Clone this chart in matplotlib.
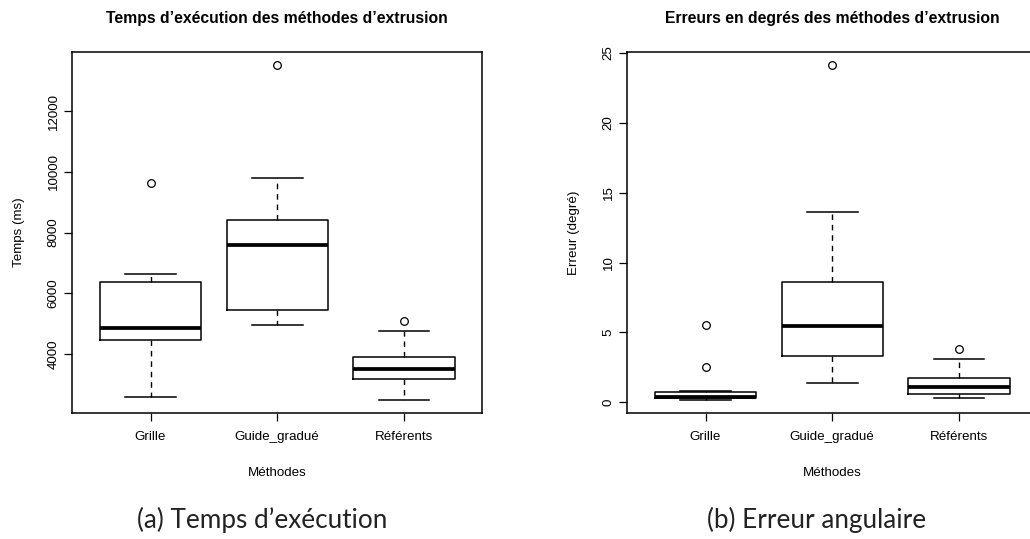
import matplotlib
matplotlib.use("Agg")
import matplotlib.pyplot as plt

# ---------------- data ----------------
methods = ["Grille", "Guide_gradu\u00e9", "R\u00e9f\u00e9rents"]

# Execution time (ms): lower whisker, Q1, median, Q3, upper whisker, outliers
time_whislo = [2596, 4963, 2497]
time_q1 = [4460, 5457, 3188]
time_med = [4855, 7594, 3516]
time_q3 = [6388, 8426, 3901]
time_whishi = [6641, 9788, 4743]
time_fliers = [[9643], [13513], [5085]]
time_yticks = [4000, 6000, 8000, 10000, 12000]

# Angular error (degrees)
err_whislo = [0.20, 1.38, 0.31]
err_q1 = [0.30, 3.33, 0.60]
err_med = [0.42, 5.43, 1.12]
err_q3 = [0.78, 8.59, 1.74]
err_whishi = [0.82, 13.63, 3.14]
err_fliers = [[5.55, 2.52], [24.1], [3.81]]
err_yticks = [0, 5, 10, 15, 20, 25]

titles = ["Temps d\u2019ex\u00e9cution des m\u00e9thodes d\u2019extrusion",
          "Erreurs en degr\u00e9s des m\u00e9thodes d\u2019extrusion"]
ylabels = ["Temps (ms)", "Erreur (degr\u00e9)"]
xlabel = "M\u00e9thodes"
captions = ["(a) Temps d\u2019ex\u00e9cution", "(b) Erreur angulaire"]

FONT = ["Liberation Sans", "DejaVu Sans"]
plt.rcParams["font.family"] = FONT

fig = plt.figure(figsize=(10.30, 5.39), dpi=100)

W, H = 1030.0, 539.0
ax_w = 410.4 / W
ax_b = 1 - 413.0 / H
ax_h = (413.0 - 52.0) / H
axes = [fig.add_axes([72.0 / W, ax_b, ax_w, ax_h]),
        fig.add_axes([627.0 / W, ax_b, ax_w, ax_h])]


def make_stats(lo, q1, med, q3, hi, fl):
    return [dict(whislo=lo[i], q1=q1[i], med=med[i], q3=q3[i], whishi=hi[i],
                 fliers=fl[i], label=methods[i]) for i in range(len(methods))]


datasets = [
    (make_stats(time_whislo, time_q1, time_med, time_q3, time_whishi, time_fliers), time_yticks),
    (make_stats(err_whislo, err_q1, err_med, err_q3, err_whishi, err_fliers), err_yticks),
]

TS = 9.6
for k, (ax, (stats, yt)) in enumerate(zip(axes, datasets)):
    ax.bxp(stats, positions=[1, 2, 3], widths=0.8, capwidths=0.4,
           showfliers=True, patch_artist=False,
           boxprops=dict(color="black", linewidth=1.1),
           medianprops=dict(color="black", linewidth=2.7, solid_capstyle="butt"),
           whiskerprops=dict(color="black", linewidth=1.0, linestyle=(0, (4, 3.5))),
           capprops=dict(color="black", linewidth=1.1),
           flierprops=dict(marker="o", markerfacecolor="none", markeredgecolor="black",
                           markersize=5.5, markeredgewidth=0.9, linestyle="none"))
    # R-style axis limits: 4% extension of data range
    allv = [v for s in stats for v in [s["whislo"], s["whishi"]] + list(s["fliers"])]
    lo, hi = min(allv), max(allv)
    r = hi - lo
    ax.set_ylim(lo - 0.04 * r, hi + 0.04 * r)
    ax.set_xlim(0.5 - 0.04 * 3, 3.5 + 0.04 * 3)
    ax.set_yticks(yt)
    ax.set_yticklabels([str(v) for v in yt], rotation=90, va="center", fontsize=TS)
    ax.set_xticks([1, 2, 3])
    ax.set_xticklabels(methods, fontsize=TS)
    ax.tick_params(axis="both", direction="out", length=6, width=0.9, color="black")
    ax.tick_params(axis="y", pad=3)
    ax.tick_params(axis="x", pad=7)
    for sp in ax.spines.values():
        sp.set_linewidth(1.1)
        sp.set_color("black")
    ax.set_title(titles[k], fontsize=11.3, fontweight="bold", pad=21)
    ax.set_ylabel(ylabels[k], fontsize=TS, labelpad=16)
    ax.set_xlabel(xlabel, fontsize=TS, labelpad=17)

fig.text(262.0 / W, 1 - 520.0 / H, captions[0], ha="center", va="center",
         fontsize=18.8, family=["Lato", "DejaVu Sans"], color="#222222")
fig.text(817.0 / W, 1 - 520.0 / H, captions[1], ha="center", va="center",
         fontsize=18.8, family=["Lato", "DejaVu Sans"], color="#222222")

fig.savefig("out.png", dpi=100, facecolor="white")
